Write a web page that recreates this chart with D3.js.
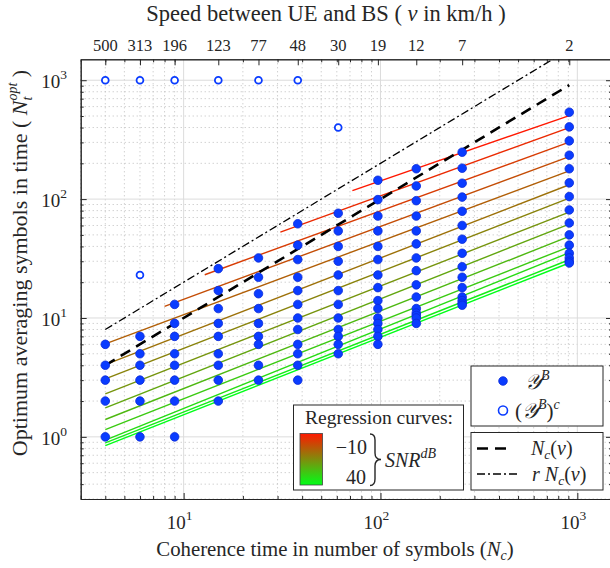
<!DOCTYPE html>
<html lang="en">
<head>
<meta charset="UTF-8">
<title>Optimum averaging symbols vs coherence time</title>
<script src="https://d3js.org/d3.v7.min.js"></script>
<style>
  body { margin: 0; background: #fff; }
  svg text { font-family: "Liberation Serif", "Times New Roman", serif; fill: #262626; }
  .grid-major { stroke: #dcdcdc; stroke-width: 1; }
  .grid-minor { stroke: #bdbdbd; stroke-width: 1; stroke-dasharray: 1,3; }
</style>
</head>
<body>
<script>
// coherence time columns (N_c) and matching speeds on the top axis
const ncValues = [4, 6, 9, 15, 24, 38, 61, 97, 152, 260, 910];
const speedLabels = ["500", "313", "196", "123", "77", "48", "30", "19", "12", "7", "2"];

// optimum N_t inside Y^B, one list per N_c column
const ntInB = [
  [6, 4, 3, 2, 1],
  [7, 5, 4, 3, 2, 1],
  [13, 9, 7, 5, 4, 3, 2, 1],
  [26, 17, 12, 9, 7, 5, 4, 3, 2],
  [32, 22, 16, 12, 9, 7, 6, 4, 3],
  [62, 41, 31, 22, 17, 13, 10, 8, 6, 5, 4, 3],
  [76, 54, 40, 30, 23, 17, 13, 10, 8, 7, 6, 5],
  [144, 99, 72, 54, 40, 31, 23, 18, 14, 12, 10, 9, 8, 7, 6],
  [180, 129, 97, 72, 54, 42, 32, 25, 19, 15, 12, 11, 10.5, 10, 9],
  [248, 182, 136, 104, 79, 60, 46, 35, 27, 22, 18, 15, 14, 13.3, 12.8],
  [538, 405, 309, 234, 180, 137, 105, 81, 63, 50, 41, 35, 32, 30, 29]
];

// points of the complement (Y^B)^c
const outNc = [4, 6, 9, 15, 24, 38, 61, 6];
const outNt = [1000, 1000, 1000, 1000, 1000, 1000, 400, 23];

// regression curves, SNR from -10 dB (first) to 40 dB (last)
const regStartNc = [72, 31, 12.8, 8, 4, 4, 4, 4, 4, 4, 4, 4, 4, 4];
const regStartNt = [118, 52.8, 23.1, 12.5, 6.05, 4.05, 3.07, 2.3, 1.75, 1.4, 1.15, 0.94, 0.89, 0.845];
const regEndNc = [910, 910, 910, 910, 910, 910, 910, 910, 910, 910, 910, 910, 910, 910];
const regEndNt = [504, 400, 301, 228, 173, 132, 102, 77.8, 61.7, 48.5, 39.7, 35.4, 30.9, 29];

// reference lines N_c(v) and r N_c(v)
const ncLineX = [4, 910];
const ncLineY = [4, 910];
const rncLineY = [8, 1820];

const xMajor = [10, 100, 1000];
const yMajor = [1, 10, 100, 1000];

const width = 610, height = 568;
const plot = { left: 80.7, top: 59.3, right: 612, bottom: 499 };

const svg = d3.select("body").append("svg")
  .attr("width", width).attr("height", height);

const x = d3.scaleLog().domain([3, 1500]).range([plot.left, plot.right]);
const y = d3.scaleLog().domain([0.3, 1500]).range([plot.bottom, plot.top]);

svg.append("defs").append("clipPath").attr("id", "clip")
  .append("rect")
  .attr("x", plot.left).attr("y", plot.top)
  .attr("width", plot.right - plot.left).attr("height", plot.bottom - plot.top);

// grid
const xMinor = x.ticks().filter(v => !xMajor.includes(v));
const yMinor = y.ticks().filter(v => !yMajor.includes(v));
const grid = svg.append("g");
grid.selectAll(".gx").data(xMinor).enter().append("line")
  .attr("class", "grid-minor")
  .attr("x1", d => x(d)).attr("x2", d => x(d))
  .attr("y1", plot.top).attr("y2", plot.bottom);
grid.selectAll(".gy").data(yMinor).enter().append("line")
  .attr("class", "grid-minor")
  .attr("y1", d => y(d)).attr("y2", d => y(d))
  .attr("x1", plot.left).attr("x2", plot.right);
grid.selectAll(".gX").data(xMajor).enter().append("line")
  .attr("class", "grid-major")
  .attr("x1", d => x(d)).attr("x2", d => x(d))
  .attr("y1", plot.top).attr("y2", plot.bottom);
grid.selectAll(".gY").data(yMajor).enter().append("line")
  .attr("class", "grid-major")
  .attr("y1", d => y(d)).attr("y2", d => y(d))
  .attr("x1", plot.left).attr("x2", plot.right);

// data layer
const layer = svg.append("g").attr("clip-path", "url(#clip)");

const color = d3.scaleLinear()
  .domain([0, regStartNt.length - 1])
  .range(["#ff1800", "#00ff18"])
  .interpolate(d3.interpolateRgb);

const line = d3.line().x(d => x(d[0])).y(d => y(d[1]));

layer.selectAll(".reg").data(regStartNt).enter().append("path")
  .attr("d", (d, i) => line([[regStartNc[i], d], [regEndNc[i], regEndNt[i]]]))
  .attr("fill", "none")
  .attr("stroke", (d, i) => color(i))
  .attr("stroke-width", 1.4);

layer.append("path")
  .attr("d", line(ncLineX.map((v, i) => [v, ncLineY[i]])))
  .attr("fill", "none").attr("stroke", "#000")
  .attr("stroke-width", 2.6).attr("stroke-dasharray", "11,7");

layer.append("path")
  .attr("d", line(ncLineX.map((v, i) => [v, rncLineY[i]])))
  .attr("fill", "none").attr("stroke", "#000")
  .attr("stroke-width", 1.3).attr("stroke-dasharray", "8,3,2,3");

const inPts = [];
ntInB.forEach((col, i) => col.forEach(v => inPts.push([ncValues[i], v])));

layer.selectAll(".pin").data(inPts).enter().append("circle")
  .attr("cx", d => x(d[0])).attr("cy", d => y(d[1]))
  .attr("r", 4.3)
  .attr("fill", "#0a3cff").attr("stroke", "#0a2ad8").attr("stroke-width", 0.8);

layer.selectAll(".pout").data(outNt).enter().append("circle")
  .attr("cx", (d, i) => x(outNc[i])).attr("cy", d => y(d))
  .attr("r", 3.4)
  .attr("fill", "#fff").attr("stroke", "#0a3cff").attr("stroke-width", 1.8);

// axes
const axes = svg.append("g");
axes.append("g").attr("transform", `translate(0,${plot.bottom})`)
  .call(d3.axisBottom(x).tickValues(xMinor).tickSizeInner(-3).tickSizeOuter(0).tickFormat(""));
axes.append("g").attr("transform", `translate(0,${plot.bottom})`)
  .call(d3.axisBottom(x).tickValues(xMajor).tickSizeInner(-6).tickSizeOuter(0).tickFormat(""));
axes.append("g").attr("transform", `translate(0,${plot.top})`)
  .call(d3.axisTop(x).tickValues(xMinor).tickSizeInner(-3).tickSizeOuter(0).tickFormat(""));
axes.append("g").attr("transform", `translate(0,${plot.top})`)
  .call(d3.axisTop(x).tickValues(ncValues).tickSizeInner(-6).tickSizeOuter(0).tickFormat(""));
axes.append("g").attr("transform", `translate(${plot.left},0)`)
  .call(d3.axisLeft(y).tickValues(yMinor).tickSizeInner(-3).tickSizeOuter(0).tickFormat(""));
axes.append("g").attr("transform", `translate(${plot.left},0)`)
  .call(d3.axisLeft(y).tickValues(yMajor).tickSizeInner(-6).tickSizeOuter(0).tickFormat(""));
axes.append("g").attr("transform", `translate(${plot.right},0)`)
  .call(d3.axisRight(y).tickValues(yMinor).tickSizeInner(-3).tickSizeOuter(0).tickFormat(""));
axes.append("g").attr("transform", `translate(${plot.right},0)`)
  .call(d3.axisRight(y).tickValues(yMajor).tickSizeInner(-6).tickSizeOuter(0).tickFormat(""));
axes.selectAll("path.domain").attr("stroke", "#262626");
axes.selectAll(".tick line").attr("stroke", "#262626");

// tick labels
function powLabel(sel, exp) {
  sel.append("tspan").text("10");
  sel.append("tspan").attr("dy", -9).attr("font-size", 13.5).text(exp);
}
xMajor.forEach(v => {
  svg.append("text").attr("x", x(v) - 4).attr("y", 529)
    .attr("text-anchor", "middle").attr("font-size", 19)
    .call(powLabel, Math.round(Math.log10(v)));
});
yMajor.forEach(v => {
  svg.append("text").attr("x", 67).attr("y", y(v) + 8)
    .attr("text-anchor", "end").attr("font-size", 19)
    .call(powLabel, Math.round(Math.log10(v)));
});
speedLabels.forEach((s, i) => {
  svg.append("text").attr("x", x(ncValues[i])).attr("y", 51)
    .attr("text-anchor", "middle").attr("font-size", 16.5).text(s);
});

// axis titles
const topTitle = svg.append("text").attr("x", 326).attr("y", 21)
  .attr("text-anchor", "middle").attr("font-size", 22.5);
topTitle.append("tspan").text("Speed between UE and BS ( ");
topTitle.append("tspan").attr("font-style", "italic").text("v");
topTitle.append("tspan").text(" in km/h )");

const botTitle = svg.append("text").attr("x", 335).attr("y", 556)
  .attr("text-anchor", "middle").attr("font-size", 20.8);
botTitle.append("tspan").text("Coherence time in number of symbols (");
botTitle.append("tspan").attr("font-style", "italic").text("N");
botTitle.append("tspan").attr("font-style", "italic").attr("font-size", 14).attr("dy", 4).text("c");
botTitle.append("tspan").attr("dy", -4).text(")");

const yTitle = svg.append("text")
  .attr("transform", "translate(27,263) rotate(-90)")
  .attr("text-anchor", "middle").attr("font-size", 22);
yTitle.append("tspan").text("Optimum averaging symbols in time ( ");
yTitle.append("tspan").attr("font-style", "italic").text("N");
yTitle.append("tspan").attr("font-style", "italic").attr("font-size", 14).attr("dy", 5).text("t");
yTitle.append("tspan").attr("font-style", "italic").attr("font-size", 14).attr("dx", -4).attr("dy", -15).text("opt");
yTitle.append("tspan").attr("dy", 10).text(" )");

// legend: markers
const lg1 = svg.append("g");
lg1.append("rect").attr("x", 471).attr("y", 366).attr("width", 132).attr("height", 60)
  .attr("fill", "#fff").attr("stroke", "#262626");
lg1.append("circle").attr("cx", 503).attr("cy", 381).attr("r", 4.3)
  .attr("fill", "#0a3cff").attr("stroke", "#0a2ad8").attr("stroke-width", 0.8);
lg1.append("circle").attr("cx", 503).attr("cy", 410.5).attr("r", 4.5)
  .attr("fill", "#fff").attr("stroke", "#0a3cff").attr("stroke-width", 1.6);
const t1 = lg1.append("text").attr("x", 525).attr("y", 389).attr("font-size", 21);
t1.append("tspan").attr("font-style", "italic").text("𝒴");
t1.append("tspan").attr("font-style", "italic").attr("font-size", 14).attr("dy", -9).text("B");
const t2 = lg1.append("text").attr("x", 515).attr("y", 418).attr("font-size", 21);
t2.append("tspan").text("(");
t2.append("tspan").attr("font-style", "italic").text("𝒴");
t2.append("tspan").attr("font-style", "italic").attr("font-size", 14).attr("dy", -9).text("B");
t2.append("tspan").attr("dy", 9).text(")");
t2.append("tspan").attr("font-style", "italic").attr("font-size", 14).attr("dy", -9).text("c");

// legend: reference lines
const lg2 = svg.append("g");
lg2.append("rect").attr("x", 471).attr("y", 432.5).attr("width", 132).attr("height", 57.5)
  .attr("fill", "#fff").attr("stroke", "#262626");
lg2.append("line").attr("x1", 477).attr("x2", 512).attr("y1", 448.5).attr("y2", 448.5)
  .attr("stroke", "#000").attr("stroke-width", 2.6).attr("stroke-dasharray", "11,7");
lg2.append("line").attr("x1", 477).attr("x2", 520).attr("y1", 474).attr("y2", 474)
  .attr("stroke", "#000").attr("stroke-width", 1.3).attr("stroke-dasharray", "8,3,2,3");
const t3 = lg2.append("text").attr("x", 531).attr("y", 455).attr("font-size", 20);
t3.append("tspan").attr("font-style", "italic").text("N");
t3.append("tspan").attr("font-style", "italic").attr("font-size", 13.5).attr("dy", 4).text("c");
t3.append("tspan").attr("dy", -4).text("(");
t3.append("tspan").attr("font-style", "italic").text("v");
t3.append("tspan").text(")");
const t4 = lg2.append("text").attr("x", 532).attr("y", 481).attr("font-size", 20);
t4.append("tspan").attr("font-style", "italic").text("r ");
t4.append("tspan").attr("font-style", "italic").text("N");
t4.append("tspan").attr("font-style", "italic").attr("font-size", 13.5).attr("dy", 4).text("c");
t4.append("tspan").attr("dy", -4).text("(");
t4.append("tspan").attr("font-style", "italic").text("v");
t4.append("tspan").text(")");

// legend: regression colour bar
const lg3 = svg.append("g");
lg3.append("rect").attr("x", 293.5).attr("y", 405).attr("width", 170).attr("height", 85)
  .attr("fill", "#fff").attr("stroke", "#262626");
const grad = svg.select("defs").append("linearGradient").attr("id", "snrGrad")
  .attr("x1", 0).attr("y1", 0).attr("x2", 0).attr("y2", 1);
grad.selectAll("stop").data([0, 0.5, 1]).enter().append("stop")
  .attr("offset", d => d)
  .attr("stop-color", d => color(d * (regStartNt.length - 1)));
lg3.append("rect").attr("x", 300).attr("y", 433.5).attr("width", 22.5).attr("height", 51.5)
  .attr("fill", "url(#snrGrad)").attr("stroke", "#444").attr("stroke-width", 0.8);
lg3.append("text").attr("x", 379).attr("y", 424).attr("text-anchor", "middle")
  .attr("font-size", 19.5).text("Regression curves:");
lg3.append("text").attr("x", 367).attr("y", 454).attr("text-anchor", "end")
  .attr("font-size", 20).text("\u221210");
lg3.append("text").attr("x", 366).attr("y", 484).attr("text-anchor", "end")
  .attr("font-size", 20).text("40");
// curly brace grouping the two SNR labels
lg3.append("path")
  .attr("d", "M370,434 Q375,434 375,440 L375,453 Q375,459.5 381,459.5 Q375,459.5 375,466 L375,479 Q375,485.5 370,485.5")
  .attr("fill", "none").attr("stroke", "#262626").attr("stroke-width", 1.4);
const snr = lg3.append("text").attr("x", 385).attr("y", 467).attr("font-size", 20);
snr.append("tspan").attr("font-style", "italic").text("SNR");
snr.append("tspan").attr("font-style", "italic").attr("font-size", 14).attr("dy", -9).text("dB");
</script>
</body>
</html>
